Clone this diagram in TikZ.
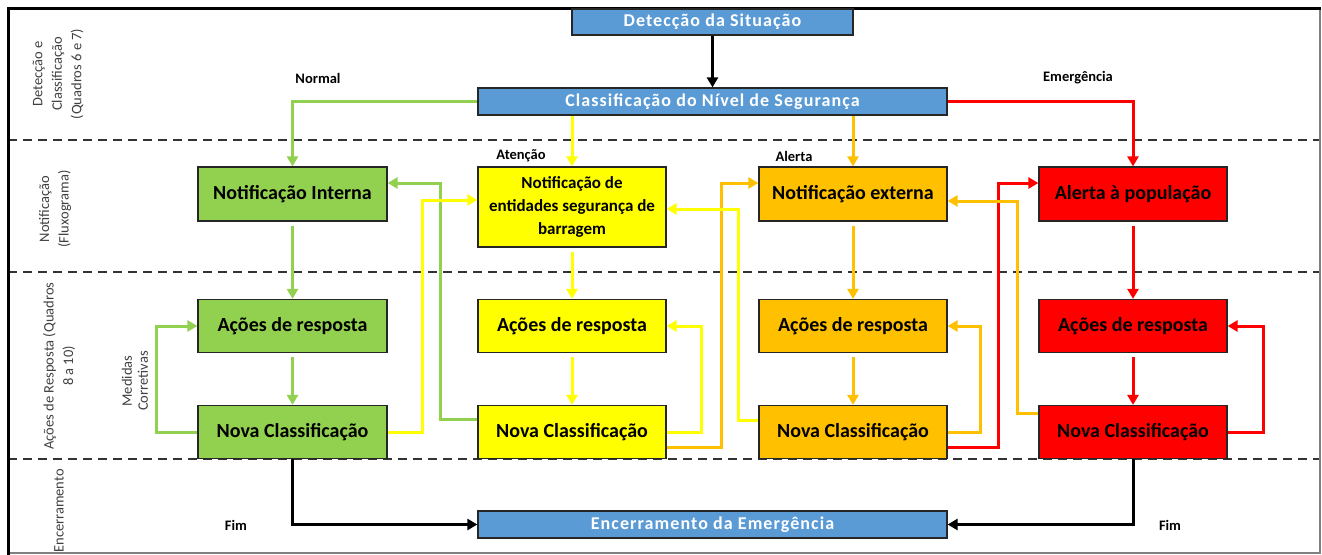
\documentclass[tikz,border=0pt]{standalone}
\usepackage{fontspec}
\setmainfont{Carlito}
\usetikzlibrary{arrows.meta,calc}
\definecolor{cgreen}{HTML}{92D050}
\definecolor{cyellow}{HTML}{FFFF00}
\definecolor{corange}{HTML}{FFC000}
\definecolor{cred}{HTML}{FF0000}
\definecolor{cblue}{HTML}{5B9BD5}
\definecolor{cside}{HTML}{404040}
\begin{document}
\begin{tikzpicture}[x=1pt,y=-1pt,
  box/.style={draw=black!85, line width=1.2pt, minimum width=188pt, minimum height=53pt, inner sep=0pt, align=center, font=\fontsize{20}{24}\selectfont\bfseries},
  bluebox/.style={draw=black!85, line width=1.2pt, fill=cblue, inner sep=0pt, text=white, font=\fontsize{18}{22}\selectfont\bfseries\addfontfeatures{LetterSpace=6}},
  lbl/.style={inner sep=0pt, font=\fontsize{14.5}{17}\selectfont\bfseries},
  side/.style={inner sep=0pt, rotate=90, align=center, text=cside, font=\fontsize{14.5}{19.5}\selectfont},
  arr/.style={-{Triangle[length=10pt,width=11pt]}},
  gline/.style={draw=cgreen, line width=3pt, arr},
  yline/.style={draw=cyellow, line width=3pt, arr},
  oline/.style={draw=corange, line width=3pt, arr},
  rline/.style={draw=cred, line width=3pt, arr},
  kline/.style={draw=black, line width=3pt, arr},
  dline/.style={draw=black!80, line width=1.8pt, dash pattern=on 9pt off 6pt}
]
\useasboundingbox (0,0) rectangle (1322,554);
% separators
\draw[dline] (8,140) -- (1320,140);
\draw[dline] (8,272) -- (1320,272);
\draw[dline] (8,459) -- (1320,459);
% frame
\draw[gray, line width=1.5pt] (1320,8) -- (1320,553) -- (8,553);
\draw[line width=3pt] (1321,8) -- (8,8) -- (8,555);

% side labels
\node[side] (s1) at (58,74) {Detecção e\\Classificação\\(Quadros 6 e 7)};
\node[side] (s2) at (55,209) {Notificação\\(Fluxograma)};
\node[side] (s3) at (59,366) {Ações de Resposta (Quadros\\8 a 10)};
\node[side, anchor=east] (s4) at (59,469) {Encerramento};
\node[side, font=\fontsize{14.5}{16}\selectfont] (s5) at (135,381) {Medidas\\Corretivas};

% blue boxes
\node[bluebox, minimum width=281pt, minimum height=26pt] (det) at (712.5,22) {Detecção da Situação};
\node[bluebox, minimum width=469pt, minimum height=27pt] (cls) at (712.5,101.5) {Classificação do Nível de Segurança};
\node[bluebox, minimum width=469pt, minimum height=27pt] (enc) at (712.5,524.5) {Encerramento da Emergência};

% column boxes
\node[box, fill=cgreen, minimum width=189pt, minimum height=54pt] (ni) at (292.5,194) {Notificação Interna};
\node[box, fill=cyellow, minimum height=80pt, font=\fontsize{17}{23}\selectfont\bfseries] (ne) at (572,207) {Notificação de\\entidades segurança de\\barragem};
\node[box, fill=corange, minimum height=54pt] (nx) at (853,194) {Notificação externa};
\node[box, fill=cred, minimum height=54pt] (al) at (1133,194) {Alerta à população};

\node[box, fill=cgreen, minimum width=189pt] (ar1) at (292.5,326) {Ações de resposta};
\node[box, fill=cyellow] (ar2) at (572,326) {Ações de resposta};
\node[box, fill=corange] (ar3) at (853,326) {Ações de resposta};
\node[box, fill=cred] (ar4) at (1133,326) {Ações de resposta};

\node[box, fill=cgreen, minimum width=189pt] (nc1) at (292.5,432) {Nova Classificação};
\node[box, fill=cyellow] (nc2) at (572,432) {Nova Classificação};
\node[box, fill=corange] (nc3) at (853,432) {Nova Classificação};
\node[box, fill=cred] (nc4) at (1133,432) {Nova Classificação};

% small labels
\node[lbl] (lnor) at (318,78) {Normal};
\node[lbl] (lat) at (521,156) {Atenção};
\node[lbl] (lal) at (794,156) {Alerta};
\node[lbl] (lem) at (1078,78) {Emergência};
\node[lbl] (lf1) at (236,525) {Fim};
\node[lbl] (lf2) at (1170,525) {Fim};

% top
\draw[kline] (det.south) -- (cls.north);
\draw[gline] (cls.west) -| (ni.north);
\draw[yline] (ne.north |- cls.south) -- (ne.north);
\draw[oline] (nx.north |- cls.south) -- (nx.north);
\draw[rline] (cls.east) -| (al.north);

% vertical flows
\draw[gline, shorten <=4pt] (ni.south) -- (ar1.north);
\draw[gline, shorten <=4pt] (ar1.south) -- (nc1.north);
\draw[yline, shorten <=4pt] (ne.south) -- (ar2.north);
\draw[yline, shorten <=4pt] (ar2.south) -- (nc2.north);
\draw[oline, shorten <=4pt] (nx.south) -- (ar3.north);
\draw[oline, shorten <=4pt] (ar3.south) -- (nc3.north);
\draw[rline, shorten <=4pt] (al.south) -- (ar4.north);
\draw[rline, shorten <=4pt] (ar4.south) -- (nc4.north);

% loops
\draw[gline] (nc1.west) -- ++(-41,0) |- (ar1.west);
\draw[yline] (nc2.east) -- ++(35,0) |- (ar2.east);
\draw[oline] (nc3.east) -- ++(33,0) |- (ar3.east);
\draw[rline] (nc4.east) -- ++(36,0) |- (ar4.east);

% cross connectors (lower layer)
\draw[gline] ([yshift=13pt]nc2.west) -- ++(-37,0) |- ([yshift=11pt]ni.east);
\draw[oline] ([yshift=-15pt]nc2.east) -- ++(55,0) |- ([yshift=11pt]nx.west);
\draw[rline] ([yshift=-15pt]nc3.east) -- ++(51,0) |- ([yshift=11pt]al.west);
% cross connectors (upper layer)
\draw[yline] (nc1.east) -- ++(35,0) |- ([yshift=7pt]ne.west);
\draw[yline] ([yshift=12pt]nc3.west) -- ++(-20,0) |- ([yshift=-2pt]ne.east);
\draw[oline] ([yshift=19pt]nc4.west) -- ++(-21,0) |- ([yshift=-7pt]nx.east);

% end
\draw[kline] (nc1.south) |- (enc.west);
\draw[kline] (nc4.south) |- (enc.east);
\end{tikzpicture}
\end{document}
